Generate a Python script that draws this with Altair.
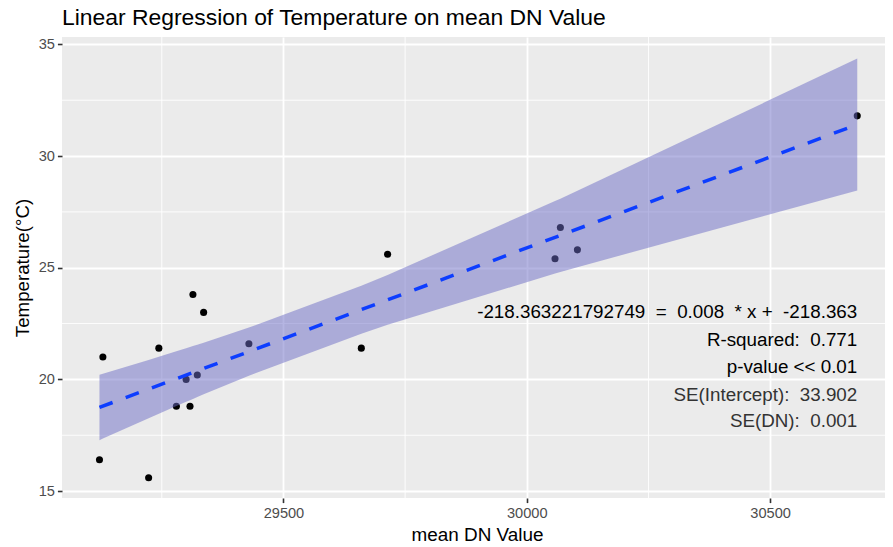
import altair as alt
import numpy as np
import pandas as pd

# ---- data ----
dn = [29122, 29129, 29223, 29244, 29280, 29300, 29308, 29314, 29323, 29336,
      29429, 29660, 29714, 30058, 30069, 30104, 30679]
temp = [16.4, 21.0, 15.6, 21.4, 18.8, 20.0, 18.8, 23.8, 20.2, 23.0,
        21.6, 21.4, 25.6, 25.4, 26.8, 25.8, 31.8]

title_text = "Linear Regression of Temperature on mean DN Value"
x_title = "mean DN Value"
y_title = "Temperature(°C)"
x_ticks = [29500, 30000, 30500]
x_minor = [29250, 29750, 30250]
y_ticks = [15, 20, 25, 30, 35]
y_minor = [17.5, 22.5, 27.5, 32.5]

NB = "\u00a0"
ann_text = [
    f"-218.363221792749{NB}{NB}={NB}{NB}0.008{NB}{NB}*{NB}x{NB}+{NB}{NB}-218.363",
    f"R-squared:{NB}{NB}0.771",
    "p-value << 0.01",
    f"SE(Intercept):{NB}{NB}33.902",
    f"SE(DN):{NB}{NB}0.001",
]
ann_y = [23.0, 21.75, 20.55, 19.3, 18.15]
ann_color = ["#000000", "#000000", "#000000", "#333333", "#333333"]

# ---- linear model fit + 95% confidence band (like geom_smooth(method="lm")) ----
xa = np.array(dn, dtype=float)
ya = np.array(temp, dtype=float)
n = len(xa)
slope, intercept = np.polyfit(xa, ya, 1)
resid = ya - (slope * xa + intercept)
s = np.sqrt(np.sum(resid ** 2) / (n - 2))
sxx = np.sum((xa - xa.mean()) ** 2)
T975 = 2.1314  # t quantile, df = 15
xs = np.sort(np.unique(xa))
fit = slope * xs + intercept
se = s * np.sqrt(1.0 / n + (xs - xa.mean()) ** 2 / sxx)
band = pd.DataFrame({"dn": xs, "lo": fit - T975 * se, "hi": fit + T975 * se})

pts = pd.DataFrame({"dn": dn, "temp": temp})
ann = pd.DataFrame({"x": [max(dn)] * len(ann_text), "y": ann_y, "t": ann_text, "c": ann_color})

FONT = "Liberation Sans"
W, H = 823, 461
xscale = alt.Scale(domain=[29045, 30736], nice=False, zero=False)
yscale = alt.Scale(domain=[14.69, 35.33], nice=False, zero=False)

xaxis = alt.Axis(values=x_ticks, format="d", grid=True, gridColor="white", gridWidth=1.8,
                 domain=False, tickColor="#333333", tickWidth=1.6, tickSize=4.6,
                 labelFont=FONT, labelFontSize=14.6, labelColor="#4D4D4D", labelPadding=3,
                 title=x_title, titleFont=FONT, titleFontSize=18.9, titleFontWeight="normal",
                 titleColor="#000000", titleX=415, titleY=42, titleBaseline="alphabetic",
                 titleAlign="center")
yaxis = alt.Axis(values=y_ticks, grid=True, gridColor="white", gridWidth=1.8,
                 domain=False, tickColor="#333333", tickWidth=1.6, tickSize=4.6,
                 labelFont=FONT, labelFontSize=14.6, labelColor="#4D4D4D", labelPadding=3,
                 title=y_title, titleFont=FONT, titleFontSize=18.7, titleFontWeight="normal",
                 titleColor="#000000", titleAngle=-90, titleX=-40, titleY=H / 2,
                 titleBaseline="middle", titleAlign="center")

X = lambda f: alt.X(f, scale=xscale, axis=xaxis)
Y = lambda f: alt.Y(f, scale=yscale, axis=yaxis)

minor_x = alt.Chart(pd.DataFrame({"v": x_minor})).mark_rule(color="white", strokeWidth=0.9).encode(
    x=X("v:Q")
)
minor_y = alt.Chart(pd.DataFrame({"v": y_minor})).mark_rule(color="white", strokeWidth=0.9).encode(
    y=Y("v:Q")
)
points = alt.Chart(pts).mark_circle(color="black", opacity=1, size=50).encode(
    x=X("dn:Q"), y=Y("temp:Q")
)
ribbon = alt.Chart(band).mark_area(color="#6b6bc5", opacity=0.5).encode(
    x=X("dn:Q"), y=Y("lo:Q"), y2="hi:Q"
)
line = alt.Chart(pts).transform_regression("dn", "temp", method="linear").mark_line(
    color="#0d3dff", strokeWidth=3.5, strokeDash=[14, 14]
).encode(x=X("dn:Q"), y=Y("temp:Q"))
labels = alt.Chart(ann).mark_text(align="right", baseline="middle", font=FONT, fontSize=18.8).encode(
    x=X("x:Q"), y=Y("y:Q"), text="t:N", color=alt.Color("c:N", scale=None)
)

chart = alt.layer(minor_x, minor_y, points, ribbon, line, labels).properties(
    width=W,
    height=H,
    title=alt.TitleParams(title_text, anchor="start", frame="group", font=FONT, fontSize=22.9,
                          fontWeight="normal", color="#000000", offset=6),
    autosize=alt.AutoSizeParams(type="none"),
    padding={"left": 54, "top": 29, "right": 0, "bottom": 50},
    background="white",
).configure_view(fill="#EBEBEB", strokeWidth=0)

chart.save("out.html", embed_options={"renderer": "svg", "actions": False})
